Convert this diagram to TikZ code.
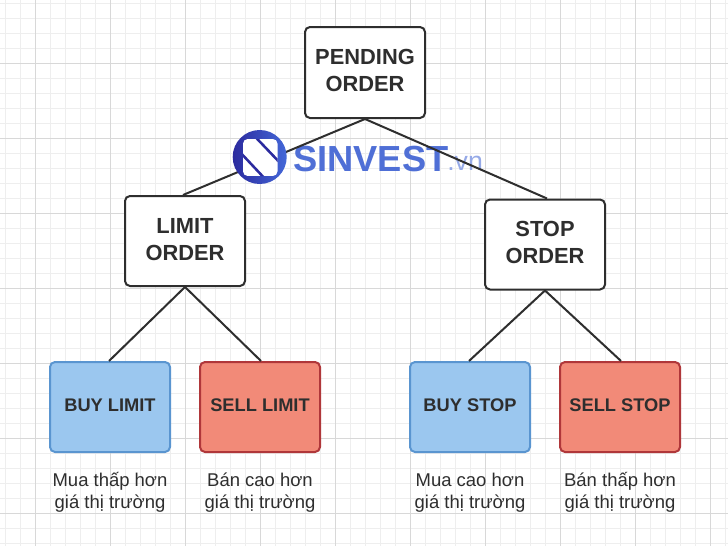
\documentclass[tikz,border=0pt]{standalone}
\usepackage{fontspec}
\setmainfont{Liberation Sans}
\definecolor{ink}{HTML}{2E2E2E}
\definecolor{gridminor}{HTML}{EEEEEE}
\definecolor{gridmajor}{HTML}{D8D8D8}
\definecolor{bluefill}{HTML}{9BC7EF}
\definecolor{blueline}{HTML}{5A95D0}
\definecolor{redfill}{HTML}{F28A78}
\definecolor{redline}{HTML}{B0373A}
\definecolor{logotext}{HTML}{4F6FD6}
\definecolor{logodark}{HTML}{2B2A9E}
\definecolor{logolight}{HTML}{4468D8}
\usetikzlibrary{calc}
\newcommand{\firstline}{\rule{0pt}{13pt}}
\tikzset{
  orderbox/.style={draw=ink,fill=white,line width=1.5pt,rounded corners=3.75pt,minimum width=90pt,inner sep=0pt,align=center},
  ordertext/.style={inner sep=0pt,align=center,text=ink,font=\fontsize{16.4}{20.25}\selectfont\bfseries},
  leafbox/.style={line width=1.5pt,rounded corners=3.75pt,minimum width=90pt,minimum height=67.5pt,inner sep=0pt,align=center,text=ink,font=\fontsize{13.7}{17}\selectfont\bfseries},
  buybox/.style={leafbox,draw=blueline,fill=bluefill},
  sellbox/.style={leafbox,draw=redline,fill=redfill},
  caption/.style={align=center,text=ink,inner sep=0pt,font=\fontsize{13.85}{16.5}\selectfont},
  link/.style={draw=ink,line width=1.5pt}
}
\begin{document}
\begin{tikzpicture}[x=0.75pt,y=-0.75pt]
\useasboundingbox (0,0) rectangle (728,546);
\fill[white] (0,0) rectangle (728,546);
\foreach \i in {0,...,48} {
  \pgfmathsetmacro{\gx}{5.5+15*\i}
  \draw[gridminor,line width=0.75pt] (\gx,0) -- (\gx,546);
}
\foreach \i in {0,...,36} {
  \pgfmathsetmacro{\gy}{3.5+15*\i}
  \draw[gridminor,line width=0.75pt] (0,\gy) -- (728,\gy);
}
\foreach \i in {0,...,9} {
  \pgfmathsetmacro{\gx}{35.5+75*\i}
  \draw[gridmajor,line width=0.75pt] (\gx,0) -- (\gx,546);
}
\foreach \i in {0,...,6} {
  \pgfmathsetmacro{\gy}{63.5+75*\i}
  \draw[gridmajor,line width=0.75pt] (0,\gy) -- (728,\gy);
}
\node[inner sep=0pt,anchor=base west,text=logotext,font=\fontsize{27.2}{30}\selectfont\bfseries] (brand) at (293,171) {SINVEST};
\node[inner sep=0pt,anchor=base west,text=logotext!60,font=\fontsize{20}{22}\selectfont] (dom) at (447,170) {.vn};
\node[orderbox,minimum height=68.25pt] (pending) at (365,72.5) {};
\node[orderbox,minimum height=67.5pt] (limit) at (185,241) {};
\node[orderbox,minimum height=67.5pt] (stop) at (545,244.5) {};
\node[ordertext] (pendingtext) at (365,70.5) {PENDING\\ORDER};
\node[ordertext] (limittext) at (185,239.5) {LIMIT\\ORDER};
\node[ordertext] (stoptext) at (545,242.5) {STOP\\ORDER};
\node[buybox] (buylimit) at (110,407) {};
\node[sellbox] (selllimit) at (260,407) {};
\node[buybox] (buystop) at (470,407) {};
\node[sellbox] (sellstop) at (620,407) {};
\node[leafbox] (t1) at (110,405.5) {BUY LIMIT};
\node[leafbox] (t2) at (260,405.5) {SELL LIMIT};
\node[leafbox] (t3) at (470,405.5) {BUY STOP};
\node[leafbox] (t4) at (620,405.5) {SELL STOP};
\draw[link] (pending.south) -- ($(limit.north)+(-2,0)$);
\draw[link] (pending.south) -- ($(stop.north)+(2,0)$);
\draw[link] (limit.south) -- ($(buylimit.north)+(-1,0)$);
\draw[link] (limit.south) -- ($(selllimit.north)+(1,0)$);
\draw[link] (stop.south) -- ($(buystop.north)+(-1,0)$);
\draw[link] (stop.south) -- ($(sellstop.north)+(1,0)$);
\node[caption] (c1) at (110,491) {\firstline Mua thấp hơn\\giá thị trường};
\node[caption] (c2) at (260,491) {\firstline Bán cao hơn\\giá thị trường};
\node[caption] (c3) at (470,491) {\firstline Mua cao hơn\\giá thị trường};
\node[caption] (c4) at (620,491) {\firstline Bán thấp hơn\\giá thị trường};
% logo
\shade[left color=logodark,right color=logolight] (259.7,157) circle[radius=20.25pt];
\begin{scope}
\clip[rounded corners=3.5pt] (243,139) rectangle (277.5,176);
\fill[white] (243,139) rectangle (277.5,176);
\draw[logodark,line width=1.9pt] (238,150) -- (268,182);
\draw[logodark,line width=1.9pt] (253,134.5) -- (283,166);
\end{scope}
\end{tikzpicture}
\end{document}
